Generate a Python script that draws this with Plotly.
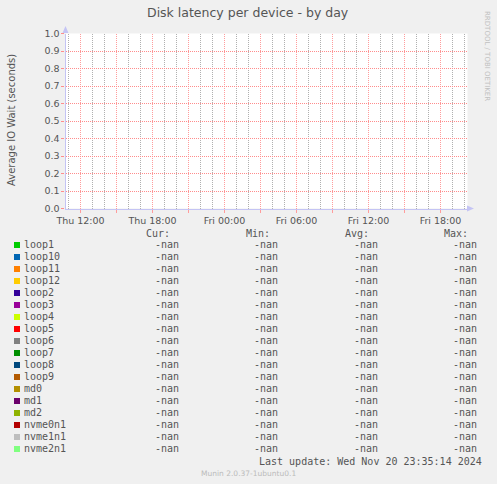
import math
import plotly.graph_objects as go

# series shown in the legend (all values are nan in the source graph)
devices = ['loop1', 'loop10', 'loop11', 'loop12', 'loop2', 'loop3', 'loop4', 'loop5',
           'loop6', 'loop7', 'loop8', 'loop9', 'md0', 'md1', 'md2',
           'nvme0n1', 'nvme1n1', 'nvme2n1']
colors = ['#00CC00', '#0066B3', '#FF8000', '#FFCC00', '#330099', '#990099', '#CCFF00',
          '#FF0000', '#808080', '#008F00', '#00487D', '#B35A00', '#B38F00', '#6B006B',
          '#8FB300', '#B30000', '#BEBEBE', '#80FF80']
nan = float('nan')
cur_vals = [nan] * len(devices)
min_vals = [nan] * len(devices)
avg_vals = [nan] * len(devices)
max_vals = [nan] * len(devices)

time_range = ['2024-11-21 10:45', '2024-11-22 20:15']
tick_vals = ['2024-11-21 12:00', '2024-11-21 15:00', '2024-11-21 18:00', '2024-11-21 21:00',
             '2024-11-22 00:00', '2024-11-22 03:00', '2024-11-22 06:00', '2024-11-22 09:00',
             '2024-11-22 12:00', '2024-11-22 15:00', '2024-11-22 18:00']
tick_text = ['Thu 12:00', '', 'Thu 18:00', '', 'Fri 00:00', '', 'Fri 06:00', '',
             'Fri 12:00', '', 'Fri 18:00']
y_ticks = [0.0, 0.1, 0.2, 0.3, 0.4, 0.5, 0.6, 0.7, 0.8, 0.9, 1.0]

W, H = 497, 484
BG = '#F0F0F0'
TXT = '#555555'
AXIS = '#C4C4F4'
MGRID_X = '#FF9C9C'
mGRID_X = '#B0B0B0'
MGRID_Y = '#FF8C8C'
DOTS = '1px,1px'
SANS = 'DejaVu Sans'
MONO = 'DejaVu Sans Mono'


def px(x, y):
    return x / W, 1 - y / H


def fmt(v):
    return '-nan' if math.isnan(v) else '%.2f' % v


fig = go.Figure()

# data traces in the graph area (nothing to draw, values are nan)
for name, color in zip(devices, colors):
    fig.add_trace(go.Scatter(x=time_range, y=[nan, nan], name=name, mode='lines',
                             line=dict(color=color, width=1), showlegend=False))

# legend rows on a hidden axis
fig.add_trace(go.Scatter(x=[17] * len(devices), y=devices, mode='markers',
                         marker=dict(symbol='square', size=6, color=colors),
                         xaxis='x2', yaxis='y2', showlegend=False, hoverinfo='skip'))
fig.add_trace(go.Scatter(x=[24] * len(devices), y=devices, mode='text', text=devices,
                         textposition='middle right',
                         textfont=dict(family=MONO, size=10, color=TXT),
                         xaxis='x2', yaxis='y2', showlegend=False, hoverinfo='skip'))
for xr, vals in [(179, cur_vals), (278, min_vals), (378, avg_vals), (477, max_vals)]:
    fig.add_trace(go.Scatter(x=[xr] * len(devices), y=devices, mode='text',
                             text=[fmt(v) for v in vals], textposition='middle left',
                             textfont=dict(family=MONO, size=10, color=TXT),
                             xaxis='x2', yaxis='y2', showlegend=False, hoverinfo='skip'))

# half-pixel edges so the 1px dotted grid lands on whole pixels
x0, y0 = px(65.5, 208.5)
x1, y1 = px(467.5, 33.5)
ly0 = 1 - 455 / H
ly1 = 1 - 239 / H

annotations = [
    dict(text='Disk latency per device - by day', x=px(248, 0)[0], y=px(0, 13)[1],
         font=dict(family=SANS, size=12.5, color=TXT)),
    dict(text='Average IO Wait (seconds)', x=px(11, 0)[0], y=px(0, 120)[1], textangle=-90,
         font=dict(family=SANS, size=10, color=TXT)),
    dict(text='RRDTOOL / TOBI OETIKER', x=px(487, 0)[0], y=px(0, 56)[1], textangle=90,
         font=dict(family=SANS, size=7, color='#C0C0C0')),
    dict(text='Munin 2.0.37-1ubuntu0.1', x=px(248, 0)[0], y=px(0, 473)[1],
         font=dict(family=SANS, size=7.5, color='#BBBBBB')),
    dict(text='Last update: Wed Nov 20 23:35:14 2024', x=px(484, 0)[0], y=px(0, 461)[1],
         xanchor='right', font=dict(family=MONO, size=10, color=TXT)),
]
for label, xr in [('Cur:', 172), ('Min:', 272), ('Avg:', 371), ('Max:', 470)]:
    annotations.append(dict(text=label, x=px(xr, 0)[0], y=px(0, 233)[1], xanchor='right',
                            font=dict(family=MONO, size=10, color=TXT)))
for a in annotations:
    a.update(xref='paper', yref='paper', showarrow=False)
    a.setdefault('xanchor', 'center')
    a.setdefault('yanchor', 'middle')


def tri(points):
    path = 'M ' + ' L '.join('%f,%f' % px(x, y) for x, y in points) + ' Z'
    return dict(type='path', xref='paper', yref='paper', path=path,
                fillcolor=AXIS, line=dict(width=0))


shapes = [
    # white canvas of the graph area, under the grid
    dict(type='rect', xref='paper', yref='paper', x0=x0, x1=x1, y0=y0, y1=y1,
         fillcolor='white', line=dict(width=0), layer='below'),
    tri([(62.5, 33), (68.5, 33), (65.5, 26)]),
    tri([(467, 205.5), (467, 211.5), (474, 208.5)]),
]

fig.update_layout(
    width=W, height=H,
    margin=dict(l=0, r=0, t=0, b=0, pad=0, autoexpand=False),
    paper_bgcolor=BG,
    plot_bgcolor='rgba(0,0,0,0)',
    showlegend=False,
    annotations=annotations,
    shapes=shapes,
    xaxis=dict(
        domain=[x0, x1], type='date', range=time_range,
        tickvals=tick_vals, ticktext=tick_text,
        ticks='outside', ticklen=3, tickcolor=MGRID_X,
        tickfont=dict(family=SANS, size=9.5, color=TXT),
        showgrid=True, gridcolor=MGRID_X, griddash=DOTS, gridwidth=1,
        minor=dict(dtick=3600000, tick0='2024-11-21 00:00', showgrid=True,
                   gridcolor=mGRID_X, griddash=DOTS, gridwidth=1),
        showline=True, linecolor=AXIS, linewidth=1.2,
        zeroline=False, fixedrange=True, anchor='y', automargin=False,
    ),
    yaxis=dict(
        domain=[y0, y1], range=[0, 1], tickvals=y_ticks,
        ticktext=['%.1f' % v for v in y_ticks],
        ticks='outside', ticklen=3, tickcolor=MGRID_Y,
        tickfont=dict(family=SANS, size=9.5, color=TXT),
        showgrid=True, gridcolor=MGRID_Y, griddash=DOTS, gridwidth=1,
        showline=True, linecolor=AXIS, linewidth=1.2,
        zeroline=False, fixedrange=True, anchor='x', automargin=False,
    ),
    xaxis2=dict(domain=[0, 1], range=[0, W], visible=False, anchor='y2',
                fixedrange=True, automargin=False),
    yaxis2=dict(domain=[ly0, ly1], type='category', categoryorder='array',
                categoryarray=devices, range=[len(devices) - 0.5, -0.5],
                visible=False, anchor='x2', fixedrange=True, automargin=False),
)

# page body margin would shift the whole figure by 8px
fig.write_html("out.html", config={'displayModeBar': False},
               post_script="document.body.style.margin='0';")
